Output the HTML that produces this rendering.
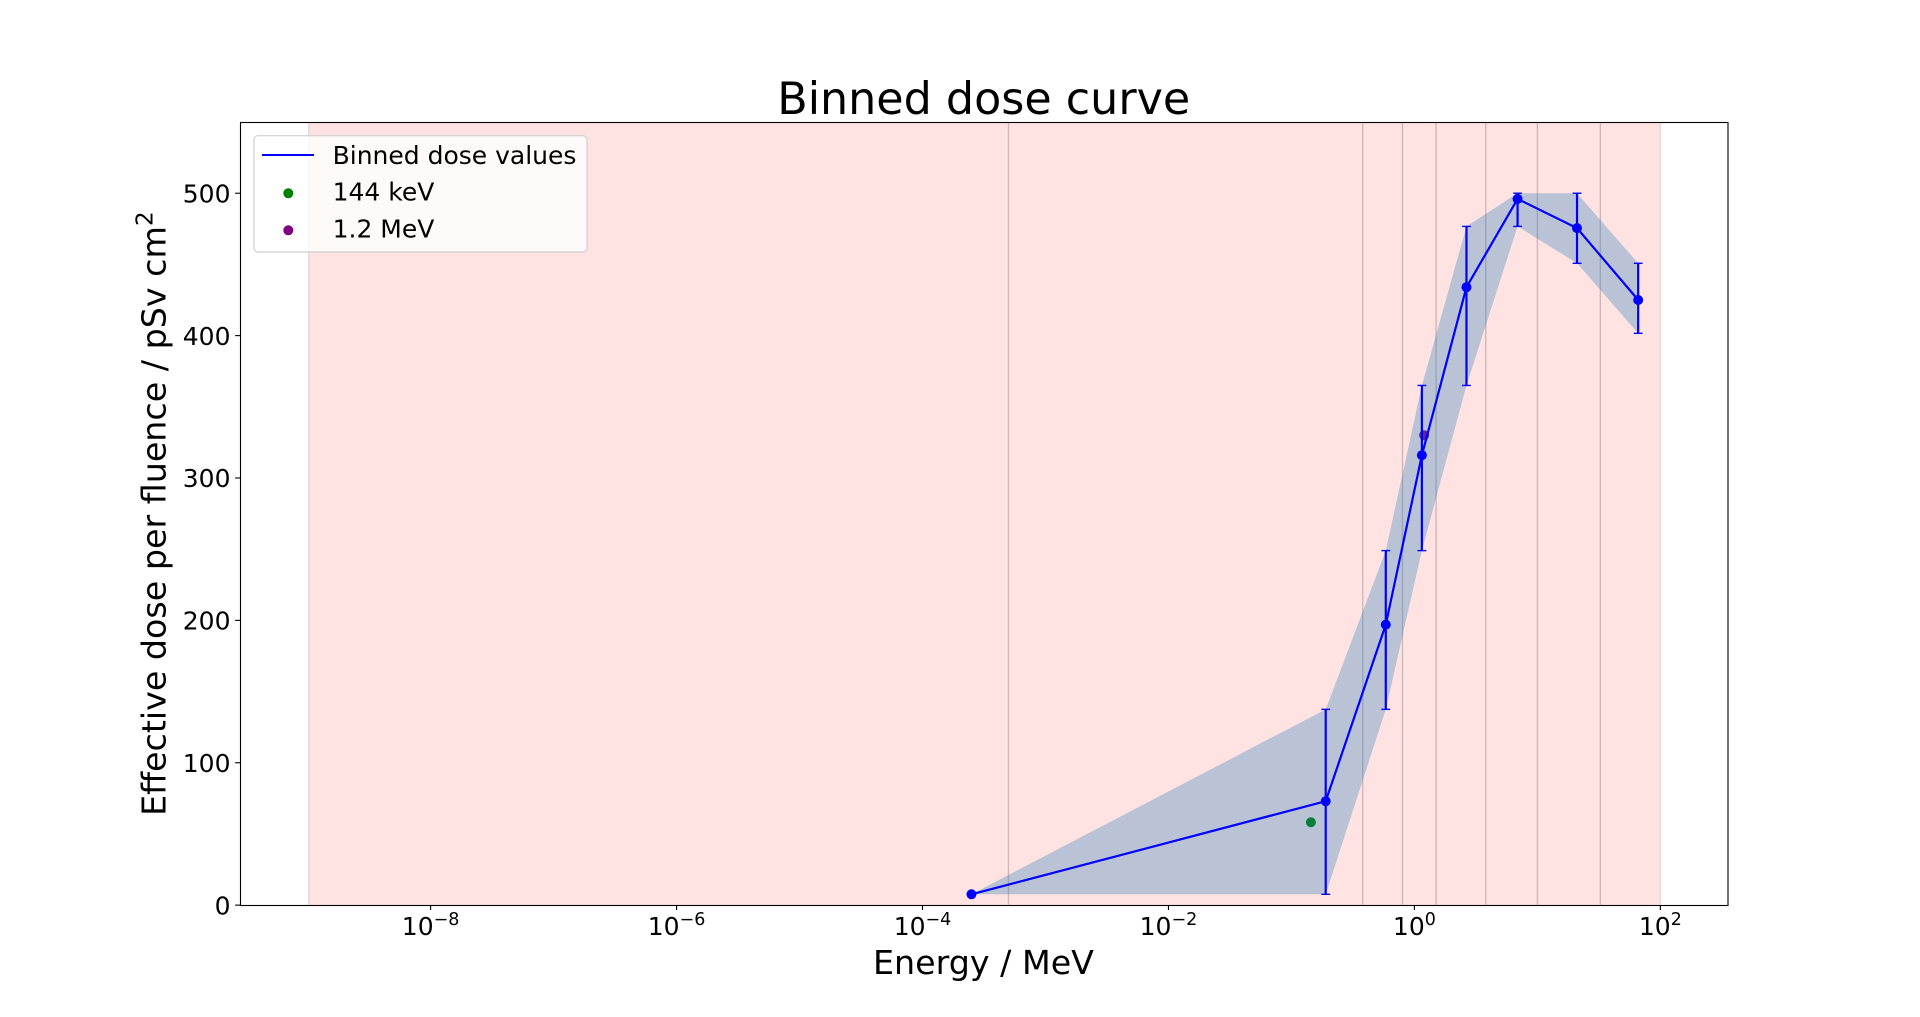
<!DOCTYPE html>
<html>
<head>
<meta charset="utf-8">
<title>Binned dose curve</title>
<style>
html,body{margin:0;padding:0;background:#fff;}
svg{display:block;}
text{font-family:"DejaVu Sans","Liberation Sans",sans-serif;fill:#000;}
</style>
</head>
<body>
<svg id="chart" xmlns="http://www.w3.org/2000/svg" width="1920" height="1017" viewBox="0 0 1920 1017">
  <rect x="0" y="0" width="1920" height="1017" fill="#ffffff"/>
  <g id="spans"></g>
  <g id="refs"></g>
  <g id="band"></g>
  <g id="errs"></g>
  <g id="series"></g>
  <rect x="240.5" y="122.5" width="1487.5" height="783" fill="none" stroke="#000" stroke-width="1.11"/>
  <g id="xticks"></g>
  <g id="yticks"></g>
  <text x="983.7" y="114" font-size="44.4" text-anchor="middle">Binned dose curve</text>
  <text x="983.5" y="974" font-size="33.3" text-anchor="middle">Energy / MeV</text>
  <text transform="translate(165.3,513.6) rotate(-90)" font-size="33.3" text-anchor="middle">Effective dose per fluence / pSv cm<tspan font-size="23.3" dy="-13">2</tspan></text>
  <g>
    <rect x="254" y="135.7" width="333" height="116.3" rx="4" ry="4" fill="#ffffff" fill-opacity="0.8" stroke="#cccccc" stroke-opacity="0.8" stroke-width="1.39"/>
    <line x1="262" y1="155" x2="314" y2="155" stroke="#0000ff" stroke-width="2.08"/>
    <circle cx="288.3" cy="193.3" r="5" fill="#008000"/>
    <circle cx="288.3" cy="230.3" r="5" fill="#800080"/>
    <text x="332.6" y="164" font-size="25">Binned dose values</text>
    <text x="332.6" y="200.5" font-size="25">144 keV</text>
    <text x="332.6" y="237.5" font-size="25">1.2 MeV</text>
  </g>
</svg>
<script>
// Chart data
var binEdges = [1.02e-9, 5e-4, 0.38, 0.8, 1.5, 3.8, 10, 32.5, 100];
var energies = [2.5e-4, 0.19, 0.585, 1.15, 2.65, 6.9, 21, 66];
var doses = [7.6, 73, 197, 316, 434, 496, 475.5, 425];
var doseLow = [7.6, 7.6, 137.5, 249, 365, 476.7, 450.8, 401.6];
var doseHigh = [7.6, 137.5, 249, 365, 476.7, 500, 500, 450.8];
var refEnergies = [0.144, 1.2];
var refDoses = [58.2, 330];
var refColors = ['#008000', '#800080'];
var xTickExponents = [-8, -6, -4, -2, 0, 2];
var yTickValues = [0, 100, 200, 300, 400, 500];

var NS = 'http://www.w3.org/2000/svg';
var axisLeft = 240, axisRight = 1728, axisTop = 122.04, axisBottom = 905.13;
var logMin = -9.55, logMax = 2.55, yMax = 550;

function xScale(v) {
  return axisLeft + (Math.log10(v) - logMin) / (logMax - logMin) * (axisRight - axisLeft);
}
function yScale(v) {
  return axisBottom - v / yMax * (axisBottom - axisTop);
}
function make(tag, attrs, parent) {
  var el = document.createElementNS(NS, tag);
  for (var k in attrs) { el.setAttribute(k, attrs[k]); }
  parent.appendChild(el);
  return el;
}

var spans = document.getElementById('spans');
var i, el, x, y;
for (i = 0; i < binEdges.length - 1; i++) {
  var x0 = xScale(binEdges[i]), x1 = xScale(binEdges[i + 1]);
  el = make('rect', {x: x0, y: axisTop, width: x1 - x0, height: axisBottom - axisTop, fill: '#ff0000', 'fill-opacity': 0.108}, spans);
  
  
  el = make('line', {x1: x0, x2: x0, y1: axisTop, y2: axisBottom, stroke: '#000', 'stroke-opacity': 0.1, 'stroke-width': 1.39}, spans);
  
  
  el = make('line', {x1: x1, x2: x1, y1: axisTop, y2: axisBottom, stroke: '#000', 'stroke-opacity': 0.1, 'stroke-width': 1.39}, spans);
  
  
}

var refs = document.getElementById('refs');
for (i = 0; i < refEnergies.length; i++) {
  el = make('circle', {cx: xScale(refEnergies[i]), cy: yScale(refDoses[i]), r: 5, fill: refColors[i]}, refs);
  
  
}

var pts = [];
for (i = 0; i < energies.length; i++) { pts.push(xScale(energies[i]) + ',' + yScale(doseHigh[i])); }
for (i = energies.length - 1; i >= 0; i--) { pts.push(xScale(energies[i]) + ',' + yScale(doseLow[i])); }
el = make('polygon', {points: pts.join(' '), fill: '#1a7abb', 'fill-opacity': 0.3}, document.getElementById('band'));



var errs = document.getElementById('errs');
for (i = 0; i < energies.length; i++) {
  x = xScale(energies[i]);
  var yl = yScale(doseLow[i]), yh = yScale(doseHigh[i]);
  el = make('line', {x1: x, x2: x, y1: yl, y2: yh, stroke: '#0000ff', 'stroke-width': 2.2}, errs);
  
  
  el = make('line', {x1: x - 4.4, x2: x + 4.4, y1: yl, y2: yl, stroke: '#0000ff', 'stroke-width': 1.39}, errs);
  
  
  el = make('line', {x1: x - 4.4, x2: x + 4.4, y1: yh, y2: yh, stroke: '#0000ff', 'stroke-width': 1.39}, errs);
  
  
}

var series = document.getElementById('series');
var linePts = [];
for (i = 0; i < energies.length; i++) { linePts.push(xScale(energies[i]) + ',' + yScale(doses[i])); }
el = make('polyline', {points: linePts.join(' '), fill: 'none', stroke: '#0000ff', 'stroke-width': 2.2, 'stroke-linejoin': 'round'}, series);


for (i = 0; i < energies.length; i++) {
  el = make('circle', {cx: xScale(energies[i]), cy: yScale(doses[i]), r: 5, fill: '#0000ff'}, series);
  
  
}

var xg = document.getElementById('xticks');
for (i = 0; i < xTickExponents.length; i++) {
  x = xScale(Math.pow(10, xTickExponents[i]));
  el = make('line', {x1: x, x2: x, y1: axisBottom, y2: axisBottom + 4.86, stroke: '#000', 'stroke-width': 1.11}, xg);
  
  
  var t = make('text', {x: x, y: 935, 'font-size': 25, 'text-anchor': 'middle'}, xg);
  
  
  t.appendChild(document.createTextNode('10'));
  var sup = make('tspan', {'font-size': 17.5, dy: -10}, t);
  sup.textContent = String(xTickExponents[i]).replace('-', '\u2212');
}

var yg = document.getElementById('yticks');
for (i = 0; i < yTickValues.length; i++) {
  y = yScale(yTickValues[i]);
  el = make('line', {x1: axisLeft - 4.86, x2: axisLeft, y1: y, y2: y, stroke: '#000', 'stroke-width': 1.11}, yg);
  
  
  var yt = make('text', {x: 230.5, y: y + 9.2, 'font-size': 25, 'text-anchor': 'end'}, yg);
  
  
  yt.textContent = String(yTickValues[i]);
}
</script>
</body>
</html>
